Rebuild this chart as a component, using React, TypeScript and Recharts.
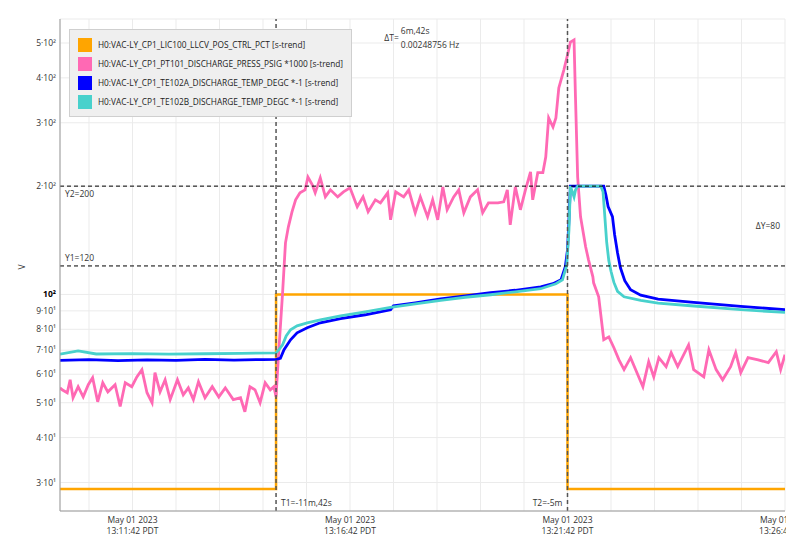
import React from 'react';
import {
  LineChart,
  Line,
  XAxis,
  YAxis,
  CartesianGrid,
  ReferenceLine,
  ReferenceArea,
  Legend,
} from 'recharts';

const FONT = '"Open Sans", "Noto Sans", "DejaVu Sans", sans-serif';

// ---- series meta ----
const seriesNames = [
  'H0:VAC-LY_CP1_LIC100_LLCV_POS_CTRL_PCT [s-trend]',
  'H0:VAC-LY_CP1_PT101_DISCHARGE_PRESS_PSIG *1000 [s-trend]',
  'H0:VAC-LY_CP1_TE102A_DISCHARGE_TEMP_DEGC *-1 [s-trend]',
  'H0:VAC-LY_CP1_TE102B_DISCHARGE_TEMP_DEGC *-1 [s-trend]',
];
const seriesColors = ['#FFA500', '#FF69B4', '#0000FF', '#48D1CC'];

// ---- time in seconds relative to "now" (13:26:42 PDT) ----
const posT = [-1000, -702, -702, -300, -300, 0];
const posV = [28.8, 28.8, 100, 100, 28.8, 28.8];

const pressT = [
  -1000, -997, -990, -986, -982, -975, -968, -961, -955, -948, -941, -934, -924, -917, -910, -901, -894, -887, -880, -873,
  -869, -862, -855, -848, -838, -830, -823, -816, -809, -800, -790, -781, -772, -761, -751, -745, -738, -731, -724, -717,
  -710, -705, -702,
  -699, -693, -689, -685, -680, -675, -669, -662, -658, -652, -648, -641, -634, -627, -617, -609, -600, -590, -582, -575,
  -565, -558, -548, -544, -537, -526, -519, -510, -503, -493, -486, -479, -472, -466, -457, -450, -443, -434, -424, -417,
  -409, -396, -388,
  -383, -379, -372, -365, -358, -351, -348, -341, -334, -330, -326, -320, -316, -312, -305, -300, -296, -291, -289, -286,
  -282, -275, -271, -265,
  -264, -257, -250, -243, -236, -229, -222, -213, -196, -188, -181, -174, -164, -157, -148, -133, -126, -112, -105, -95,
  -86, -75, -68, -61, -51, -37, -23, -12, -6, 0,
];
const pressV = [
  55.0, 54.3, 53.3, 57.9, 51.6, 55.4, 51.9, 56.1, 58.7, 50.3, 56.8, 53.6, 56.1, 48.8, 56.8, 55.4, 59.0, 61.8, 53.3, 50.0,
  60.6, 53.6, 57.9, 51.0, 57.9, 52.6, 55.0, 51.0, 57.2, 51.6, 55.4, 51.9, 55.0, 51.0, 51.6, 47.2, 55.4, 54.3, 50.0, 56.8,
  54.3, 55.4, 52.0,
  65.8, 101, 139.1, 154.1, 169.7, 183.2, 191.6, 195.3, 212, 201.6, 191.6, 211, 186.7, 195.3, 186.7, 192.8, 197.8, 175.2, 186.7, 169.7,
  183.2, 179.7, 191.6, 161.2, 192.8, 186.7, 195.3, 168.6, 186.7, 164.3, 183.2, 161.2, 199, 171.9, 186.7, 195.3, 168.6, 186.7, 195.3, 168.6,
  179.7, 179.7, 180.9,
  195.3, 156.1, 199, 171.9, 195.3, 219, 183.2, 218, 218, 241, 309.6, 292, 309.6, 375, 421, 463, 503, 510, 354, 212,
  164.3, 135.6, 124.8, 111.9,
  107.7, 98.5, 74.8, 76.2, 71.1, 65.8, 61.8, 66.7, 55.4, 65.0, 59.0, 66.7, 63.0, 68.9, 63.0, 72.4, 61.8, 59.0, 70.2, 61.8,
  57.9, 63.0, 68.9, 60.6, 66.7, 65.8, 64.6, 69.3, 61.8, 68.0,
];

const tempAT = [
  -1000, -960, -920, -880, -840, -800, -760, -720, -702,
  -696, -691, -682, -673, -659, -641, -613, -579, -544, -540,
  -510, -475, -441, -406, -372, -337, -320, -309, -303, -300,
  -298, -296, -250, -247, -244, -238, -235, -231, -227, -221,
  -213, -199, -175, -130, -61, 0,
];
const tempAV = [
  65.6, 65.9, 65.5, 65.8, 65.6, 66.0, 65.7, 65.9, 66.0,
  66.4, 70.2, 74.8, 78.2, 80.8, 83.4, 85.6, 87.8, 90.7, 93.0,
  94.8, 97.2, 99.1, 101.1, 102.7, 105.0, 107.1, 109.8, 119.4, 133,
  161, 200, 200, 189, 175.5, 164.6, 146.5, 130.5, 118.6, 109.2,
  103, 99.5, 97.1, 95.2, 92.6, 90.7,
];

const tempBT = [
  -1000, -975, -950, -900, -850, -800, -750, -702, -698, -693,
  -688, -682, -673, -659, -641, -613, -579, -544, -510, -475,
  -441, -406, -372, -337, -316, -307, -301, -298, -296, -291,
  -289, -286, -254, -251, -249, -246, -243, -240, -236, -231,
  -222, -199, -175, -130, -61, 0,
];
const tempBV = [
  68.2, 69.7, 68.3, 68.5, 68.2, 68.4, 68.6, 68.8, 70.2, 72.4,
  76.7, 79.8, 81.8, 83.4, 85.0, 87.2, 89.5, 92.1, 94.2, 96.3,
  98.2, 99.8, 101.7, 103.7, 107.1, 109.8, 120.9, 151.2, 200, 186.7,
  195, 200, 200, 193, 170, 140, 124, 116, 108, 102,
  98.5, 96.2, 94.6, 93.0, 90.7, 89.1,
];

// ---- axes ----
const yTicks = [30, 40, 50, 60, 70, 80, 90, 100, 200, 300, 400, 500];
const yTickLabels = ['3·10¹', '4·10¹', '5·10¹', '6·10¹', '7·10¹', '8·10¹', '9·10¹', '10²', '2·10²', '3·10²', '4·10²', '5·10²'];
const yDomain = [25, 583];

const xGridTicks = [-960, -900, -840, -780, -720, -660, -600, -540, -480, -420, -360, -300, -240, -180, -120, -60, 0];
const xLabelTicks = [-900, -600, -300, 0];
const xTickDates = ['May 01 2023', 'May 01 2023', 'May 01 2023', 'May 01 2023'];
const xTickTimes = ['13:11:42 PDT', '13:16:42 PDT', '13:21:42 PDT', '13:26:42 PDT'];

// ---- cursors ----
const cursorT = [-702, -300];
const cursorTLabels = ['T1=-11m,42s', 'T2=-5m'];
const cursorY = [120, 200];
const cursorYLabels = ['Y1=120', 'Y2=200'];
const deltaYLabel = 'ΔY=80';
const deltaTLines = ['6m,42s', '0.00248756 Hz'];

const rows = (ts: number[], vs: number[]) => ts.map((t, i) => ({ t, v: vs[i] }));
const seriesData = [rows(posT, posV), rows(pressT, pressV), rows(tempAT, tempAV), rows(tempBT, tempBV)];

const TXT = '#333';
const FS = 8.5;

const YTick = (props: any) => {
  const { x, y, payload } = props;
  const i = yTicks.indexOf(payload.value);
  const major = payload.value === 100;
  return (
    <text
      x={x}
      y={y}
      dy={3}
      textAnchor="end"
      fontSize={FS}
      fontFamily={FONT}
      fill={major ? '#000' : TXT}
      fontWeight={major ? 700 : 400}
    >
      {yTickLabels[i]}
    </text>
  );
};

const XTick = (props: any) => {
  const { x, y, payload } = props;
  const i = xLabelTicks.indexOf(payload.value);
  if (i < 0) return <g />;
  const clipId = `xtick-clip-${i}`;
  return (
    <g>
      <defs>
        <clipPath id={clipId}>
          <rect x={0} y={0} width={786} height={551} />
        </clipPath>
      </defs>
      <g clipPath={`url(#${clipId})`}>
        <text x={x} y={y + 12} textAnchor="middle" fontSize={FS} fontFamily={FONT} fill={TXT}>
          {xTickDates[i]}
        </text>
        <text x={x} y={y + 23} textAnchor="middle" fontSize={FS} fontFamily={FONT} fill={TXT}>
          {xTickTimes[i]}
        </text>
      </g>
    </g>
  );
};

const YLabel = (props: any) => {
  const vb = props.viewBox || { x: 0, y: 19, width: 60, height: 492 };
  const cx = vb.x + 22;
  const cy = vb.y + vb.height / 2 + 2;
  return (
    <text x={cx} y={cy} transform={`rotate(-90 ${cx} ${cy})`} textAnchor="middle" dy={3} fontSize={FS} fontFamily={FONT} fill={TXT}>
      V
    </text>
  );
};

const DeltaTLabel = (props: any) => {
  const vb = props.viewBox;
  if (!vb) return null;
  const cx = vb.x + vb.width / 2;
  const top = vb.y;
  return (
    <g fontFamily={FONT} fontSize={FS} fill={TXT}>
      <text x={cx - 23} y={top + 22} textAnchor="end">
        ΔT=
      </text>
      <text x={cx - 21} y={top + 15}>
        {deltaTLines[0]}
      </text>
      <text x={cx - 21} y={top + 29}>
        {deltaTLines[1]}
      </text>
    </g>
  );
};

const renderLegend = () => (
  <div
    style={{
      background: '#efefef',
      border: '1px solid #cfcfcf',
      padding: '5px 8px 5px 8px',
      width: 265,
      fontFamily: FONT,
    }}
  >
    {seriesNames.map((n, i) => (
      <div key={n} style={{ display: 'flex', alignItems: 'center', height: 19 }}>
        <span style={{ width: 14, height: 14, background: seriesColors[i], marginRight: 6, flex: 'none' }} />
        <span style={{ fontSize: 8.3, color: '#222', whiteSpace: 'nowrap', lineHeight: '19px' }}>{n}</span>
      </div>
    ))}
  </div>
);

export default function App() {
  return (
    <div style={{ position: 'absolute', left: 0, top: 0, width: 804, height: 551, background: '#fff', fontFamily: FONT }}>
      <LineChart width={804} height={551} margin={{ top: 19, right: 19, bottom: 0, left: 0 }}>
        <CartesianGrid stroke="#ebebeb" strokeWidth={1} />
        <XAxis
          type="number"
          dataKey="t"
          domain={[-1000, 0]}
          ticks={xGridTicks}
          interval={0}
          height={40}
          tickLine={false}
          tickSize={0}
          tickMargin={0}
          axisLine={{ stroke: '#999' }}
          tick={<XTick />}
          allowDataOverflow
        />
        <YAxis
          type="number"
          dataKey="v"
          scale="log"
          domain={yDomain}
          ticks={yTicks}
          interval={0}
          width={60}
          tickLine={false}
          tickSize={4}
          tickMargin={0}
          axisLine={{ stroke: '#999' }}
          tick={<YTick />}
          allowDataOverflow
          label={<YLabel />}
        />
        <Legend
          layout="vertical"
          align="center"
          verticalAlign="middle"
          content={renderLegend}
          wrapperStyle={{ left: 69, top: 29, width: 283, height: 88 }}
        />
        {seriesData.map((d, i) => (
          <Line
            key={seriesNames[i]}
            data={d}
            dataKey="v"
            name={seriesNames[i]}
            type="linear"
            stroke={seriesColors[i]}
            strokeWidth={i === 0 ? 2.5 : 2.8}
            dot={false}
            activeDot={false}
            isAnimationActive={false}
          />
        ))}
        <ReferenceArea
          y1={cursorY[0]}
          y2={cursorY[1]}
          fillOpacity={0}
          strokeOpacity={0}
          label={{ value: deltaYLabel, position: 'insideRight', fontSize: FS, fill: TXT, fontFamily: FONT }}
        />
        <ReferenceArea
          x1={cursorT[0]}
          x2={cursorT[1]}
          fillOpacity={0}
          strokeOpacity={0}
          label={<DeltaTLabel />}
        />
        <ReferenceLine
          y={cursorY[1]}
          stroke="#000"
          strokeDasharray="4 3"
          label={{ value: cursorYLabels[1], position: 'insideTopLeft', fontSize: FS, fill: TXT, fontFamily: FONT }}
        />
        <ReferenceLine
          y={cursorY[0]}
          stroke="#000"
          strokeDasharray="4 3"
          label={{ value: cursorYLabels[0], position: 'insideBottomLeft', fontSize: FS, fill: TXT, fontFamily: FONT }}
        />
        <ReferenceLine
          x={cursorT[0]}
          stroke="#555"
          strokeWidth={1.5}
          strokeDasharray="4 3"
          label={{ value: cursorTLabels[0], position: 'insideBottomLeft', fontSize: FS, fill: TXT, fontFamily: FONT }}
        />
        <ReferenceLine
          x={cursorT[1]}
          stroke="#555"
          strokeWidth={1.5}
          strokeDasharray="4 3"
          label={{ value: cursorTLabels[1], position: 'insideBottomRight', fontSize: FS, fill: TXT, fontFamily: FONT }}
        />
      </LineChart>
    </div>
  );
}
